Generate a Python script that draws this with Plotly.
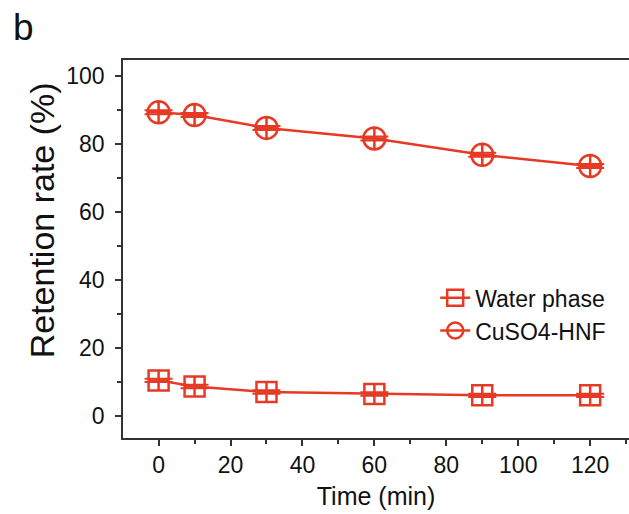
import plotly.graph_objects as go

time_min = [0, 10, 30, 60, 90, 120]
water_phase = [10.4, 8.6, 7.0, 6.4, 6.0, 6.0]
cuso4_hnf = [89.3, 88.5, 84.7, 81.6, 76.8, 73.5]
water_err = [0.5, 0.5, 0.5, 0.5, 0.5, 0.5]
cuso4_err = [0.6, 0.6, 0.6, 0.6, 0.6, 0.6]
x_ticks = [0, 20, 40, 60, 80, 100, 120]
y_ticks = [0, 20, 40, 60, 80, 100]

RED = "#E63A24"
AX = "#333333"
TXT = "#111111"
FONT = "Liberation Sans, Arial, sans-serif"

fig = go.Figure()
# data traces
fig.add_trace(go.Scatter(
    x=time_min, y=water_phase, name="Water phase", mode="lines+markers", showlegend=False,
    line=dict(color=RED, width=2.5),
    marker=dict(symbol="square-cross-open", size=20, color=RED, line=dict(color=RED, width=2.5)),
    error_y=dict(type="data", array=water_err, color=RED, thickness=2, width=14),
))
fig.add_trace(go.Scatter(
    x=time_min, y=cuso4_hnf, name="CuSO4-HNF", mode="lines+markers", showlegend=False,
    line=dict(color=RED, width=2.5),
    marker=dict(symbol="circle-cross-open", size=22, color=RED, line=dict(color=RED, width=2.5)),
    error_y=dict(type="data", array=cuso4_err, color=RED, thickness=2, width=14),
))
# legend entries (plain open symbols as in the reference legend)
fig.add_trace(go.Scatter(
    x=[None], y=[None], name="Water phase", mode="lines+markers",
    line=dict(color=RED, width=2.5),
    marker=dict(symbol="square-open", size=16, color=RED, line=dict(color=RED, width=2.5)),
))
fig.add_trace(go.Scatter(
    x=[None], y=[None], name="CuSO4-HNF", mode="lines+markers",
    line=dict(color=RED, width=2.5),
    marker=dict(symbol="circle-open", size=16, color=RED, line=dict(color=RED, width=2.5)),
))

fig.update_layout(
    width=629, height=514,
    margin=dict(l=122.5, r=0, t=60, b=76),
    paper_bgcolor="white", plot_bgcolor="white",
    font=dict(family=FONT, color=TXT),
    showlegend=True,
    legend=dict(x=0.617, y=0.428, xanchor="left", yanchor="top",
                bgcolor="rgba(0,0,0,0)", font=dict(size=23, family=FONT, color=TXT),
                tracegroupgap=0),
    annotations=[
        dict(text="b", xref="paper", yref="paper", x=-0.222, y=1.145,
             xanchor="left", yanchor="top", showarrow=False,
             font=dict(size=37, family=FONT, color=TXT)),
        dict(text="Retention rate (%)", xref="paper", yref="paper", x=-0.16, y=0.576,
             xanchor="center", yanchor="middle", textangle=-90, showarrow=False,
             font=dict(size=34, family=FONT, color=TXT)),
    ],
)

fig.update_xaxes(
    range=[-9.9, 130.8], tickvals=x_ticks, ticks="outside", ticklen=6, tickwidth=1.5,
    tickcolor=AX, showline=True, linecolor=AX, linewidth=1.5, mirror=True,
    showgrid=False, zeroline=False, tickfont=dict(size=23, family=FONT, color=TXT),
    ticklabelstandoff=0,
    minor=dict(dtick=10, tick0=0, ticks="outside", ticklen=4, tickcolor=AX, tickwidth=1.5),
    title=dict(text="Time (min)", font=dict(size=25, family=FONT, color=TXT), standoff=10),
)
fig.update_yaxes(
    range=[-6.56, 104.7], tickvals=y_ticks, ticks="outside", ticklen=6, tickwidth=1.5,
    tickcolor=AX, showline=True, linecolor=AX, linewidth=1.5, mirror=False,
    showgrid=False, zeroline=False, tickfont=dict(size=23, family=FONT, color=TXT),
    ticklabelstandoff=6,
    minor=dict(dtick=10, tick0=0, ticks="outside", ticklen=4, tickcolor=AX, tickwidth=1.5),
)

fig.write_html("out.html")
